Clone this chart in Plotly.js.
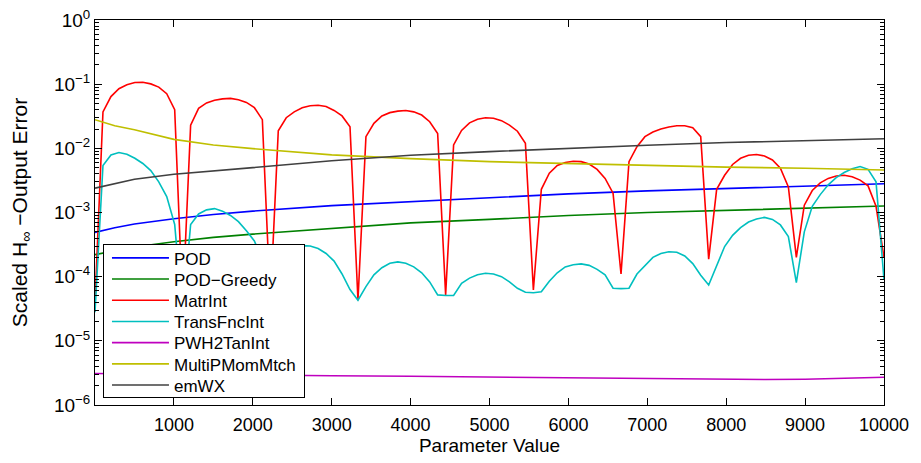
<!DOCTYPE html>
<html>
<head>
<meta charset="utf-8">
<script src="https://cdn.plot.ly/plotly-3.0.1.min.js"></script>
<style>
  html, body { margin: 0; padding: 0; background: #fff; }
  #chart { width: 921px; height: 463px; }
</style>
</head>
<body>
<div id="chart"></div>
<script>
// Parameter samples (100 equally spaced values on [0, 10000])
const paramGrid = [
  0, 101, 202, 303, 404, 505, 606, 707, 808, 909,
  1010, 1111, 1212, 1313, 1414, 1515, 1616, 1717, 1818, 1919,
  2020, 2121, 2222, 2323, 2424, 2525, 2626, 2727, 2828, 2929,
  3030, 3131, 3232, 3333, 3434, 3535, 3636, 3737, 3838, 3939,
  4040, 4141, 4242, 4343, 4444, 4545, 4646, 4747, 4848, 4949,
  5051, 5152, 5253, 5354, 5455, 5556, 5657, 5758, 5859, 5960,
  6061, 6162, 6263, 6364, 6465, 6566, 6667, 6768, 6869, 6970,
  7071, 7172, 7273, 7374, 7475, 7576, 7677, 7778, 7879, 7980,
  8081, 8182, 8283, 8384, 8485, 8586, 8687, 8788, 8889, 8990,
  9091, 9192, 9293, 9394, 9495, 9596, 9697, 9798, 9899, 10000
];

const matrInt = [
  4e-5, 0.037, 0.064, 0.085, 0.098, 0.106, 0.107, 0.101, 0.090, 0.071,
  0.040, 3.5e-5, 0.023, 0.042, 0.051, 0.056, 0.059, 0.060, 0.057, 0.052,
  0.043, 0.028, 4e-5, 0.0188, 0.030, 0.037, 0.043, 0.046, 0.047, 0.045,
  0.039, 0.032, 0.0217, 4.3e-5, 0.0152, 0.0245, 0.032, 0.036, 0.038, 0.0388,
  0.037, 0.033, 0.026, 0.017, 5.2e-5, 0.0113, 0.019, 0.025, 0.0285, 0.030,
  0.0295, 0.027, 0.023, 0.0185, 0.012, 6.2e-5, 2.3e-3, 4.1e-3, 5.4e-3, 6.0e-3,
  6.3e-3, 6.2e-3, 5.7e-3, 4.7e-3, 3.4e-3, 2.0e-3, 1.1e-4, 6.2e-3, 0.0106, 0.0152,
  0.018, 0.020, 0.0215, 0.0225, 0.0225, 0.021, 0.0152, 1.87e-4, 2.3e-3, 3.8e-3,
  5.6e-3, 7.0e-3, 7.8e-3, 8.0e-3, 7.6e-3, 6.6e-3, 4.9e-3, 2.5e-3, 2.0e-4, 1.3e-3,
  2.2e-3, 2.9e-3, 3.4e-3, 3.7e-3, 3.8e-3, 3.6e-3, 3.2e-3, 2.6e-3, 1.25e-3, 2.0e-4
];

const transFncInt = [
  2.8e-5, 5.4e-3, 7.9e-3, 8.6e-3, 8.1e-3, 7.0e-3, 5.8e-3, 4.5e-3, 3.0e-3, 1.77e-3,
  6.5e-4, 2.5e-5, 6.5e-4, 9.5e-4, 1.1e-3, 1.15e-3, 1.05e-3, 9.0e-4, 7.2e-4, 5.2e-4,
  3.6e-4, 1.8e-4, 3.5e-5, 1.6e-4, 2.4e-4, 2.9e-4, 3.05e-4, 3.0e-4, 2.75e-4, 2.3e-4,
  1.75e-4, 1.1e-4, 6.3e-5, 4.3e-5, 7.0e-5, 1.07e-4, 1.38e-4, 1.62e-4, 1.7e-4, 1.62e-4,
  1.42e-4, 1.15e-4, 8.3e-5, 5.2e-5, 5.1e-5, 5.1e-5, 7.9e-5, 9.5e-5, 1.07e-4, 1.13e-4,
  1.1e-4, 1.0e-4, 8.3e-5, 6.6e-5, 5.7e-5, 5.6e-5, 5.8e-5, 8.5e-5, 1.15e-4, 1.42e-4,
  1.53e-4, 1.58e-4, 1.5e-4, 1.3e-4, 1.07e-4, 6.6e-5, 6.5e-5, 6.6e-5, 1.1e-4, 1.5e-4,
  2.0e-4, 2.3e-4, 2.45e-4, 2.4e-4, 2.1e-4, 1.6e-4, 1.05e-4, 7.4e-5, 1.5e-4, 2.95e-4,
  4.4e-4, 5.8e-4, 7.1e-4, 7.9e-4, 8.4e-4, 7.8e-4, 6.4e-4, 4.2e-4, 8.1e-5, 5.0e-4,
  1.25e-3, 1.9e-3, 2.7e-3, 3.5e-3, 4.2e-3, 4.8e-3, 5.2e-3, 4.7e-3, 3.0e-3, 9.0e-5
];

// Smooth curves sampled more coarsely
const smoothGrid = [0, 250, 500, 1000, 1500, 2000, 3000, 4000, 5000, 6000, 7000, 8000, 9000, 10000];
const pod        = [4.9e-4, 5.8e-4, 6.6e-4, 8.0e-4, 9.3e-4, 1.05e-3, 1.28e-3, 1.48e-3, 1.70e-3, 1.95e-3, 2.17e-3, 2.38e-3, 2.6e-3, 2.8e-3];
const podGreedy  = [2.2e-4, 2.55e-4, 2.9e-4, 3.5e-4, 4.1e-4, 4.6e-4, 5.7e-4, 6.9e-4, 7.8e-4, 9.0e-4, 1.0e-3, 1.08e-3, 1.18e-3, 1.26e-3];
const multiPMom  = [0.028, 0.0225, 0.0195, 0.0138, 0.0113, 0.0099, 0.0079, 0.0069, 0.0062, 0.0058, 0.0054, 0.0051, 0.0049, 0.0046];
const emWX       = [2.4e-3, 2.85e-3, 3.3e-3, 3.95e-3, 4.5e-3, 5.0e-3, 6.4e-3, 7.8e-3, 8.9e-3, 0.0101, 0.0112, 0.0123, 0.0133, 0.0141];

const pwhGrid = [0, 1000, 2000, 3000, 4000, 5000, 6000, 7000, 8000, 8500, 9000, 9500, 10000];
const pwh2TanInt = [3.1e-6, 3.0e-6, 2.9e-6, 2.85e-6, 2.8e-6, 2.72e-6, 2.65e-6, 2.6e-6, 2.55e-6, 2.5e-6, 2.52e-6, 2.58e-6, 2.7e-6];

const xTicks = [1000, 2000, 3000, 4000, 5000, 6000, 7000, 8000, 9000, 10000];
const xTickText = ['1000', '2000', '3000', '4000', '5000', '6000', '7000', '8000', '9000', '10000'];
const yTicks = [1e-6, 1e-5, 1e-4, 1e-3, 1e-2, 1e-1, 1];
const yTickText = ['10<sup>\u22126</sup>', '10<sup>\u22125</sup>', '10<sup>\u22124</sup>',
                   '10<sup>\u22123</sup>', '10<sup>\u22122</sup>', '10<sup>\u22121</sup>', '10<sup>0</sup>'];

const FONT = 'Liberation Sans, Arial, Helvetica, sans-serif';

function series(name, x, y, color) {
  return { type: 'scatter', mode: 'lines', name: name, x: x, y: y,
           line: { color: color, width: 1.6 } };
}

const traces = [
  series('POD', smoothGrid, pod, 'rgb(0,0,255)'),
  series('POD\u2212Greedy', smoothGrid, podGreedy, 'rgb(0,128,0)'),
  series('MatrInt', paramGrid, matrInt, 'rgb(255,0,0)'),
  series('TransFncInt', paramGrid, transFncInt, 'rgb(0,191,191)'),
  series('PWH2TanInt', pwhGrid, pwh2TanInt, 'rgb(191,0,191)'),
  series('MultiPMomMtch', smoothGrid, multiPMom, 'rgb(191,191,0)'),
  series('emWX', smoothGrid, emWX, 'rgb(64,64,64)')
];

const layout = {
  width: 921, height: 463,
  margin: { l: 95, r: 37, t: 20, b: 58 },
  paper_bgcolor: 'white', plot_bgcolor: 'white',
  font: { family: FONT, size: 17, color: 'black' },
  showlegend: true,
  legend: {
    x: 0.0101, y: 0.018, xanchor: 'left', yanchor: 'bottom',
    bgcolor: 'white', bordercolor: 'black', borderwidth: 1,
    font: { family: FONT, size: 17, color: 'black' },
    itemwidth: 57, tracegroupgap: 0
  },
  xaxis: {
    range: [0, 10000],
    tickmode: 'array', tickvals: xTicks, ticktext: xTickText,
    ticks: 'inside', ticklen: 7, tickcolor: 'black', tickwidth: 1,
    showline: true, linecolor: 'black', linewidth: 1, mirror: 'allticks',
    showgrid: false, zeroline: false,
    ticklabelstandoff: 3,
    tickfont: { family: FONT, size: 18 },
    title: { text: 'Parameter Value', font: { family: FONT, size: 19 }, standoff: 3 }
  },
  yaxis: {
    type: 'log', range: [-6, 0],
    tickmode: 'array', tickvals: yTicks, ticktext: yTickText,
    ticks: 'inside', ticklen: 7, tickcolor: 'black', tickwidth: 1,
    minor: { ticks: 'inside', ticklen: 4, tickcolor: 'black', dtick: 'D1', showgrid: false },
    showline: true, linecolor: 'black', linewidth: 1, mirror: 'allticks',
    showgrid: false, zeroline: false,
    tickfont: { family: FONT, size: 19 },
    title: { text: 'Scaled H<sub>\u221e</sub> \u2212Output Error', font: { family: FONT, size: 21 }, standoff: 20 }
  }
};

// Tighten the legend rows to a compact 21px pitch, keeping its bottom edge in place
function compactLegend(gd) {
  const leg = gd.querySelector('.legend');
  if (!leg) return;
  const items = Array.from(leg.querySelectorAll('g.traces'));
  const pitch = 21.2, top = 13.5, bottomPad = 12, shiftX = 3;
  items.forEach((it, i) => {
    const m = /translate\(\s*([-\d.e]+)[ ,]+([-\d.e]+)\s*\)/.exec(it.getAttribute('transform') || '');
    const x = m ? parseFloat(m[1]) : 0;
    it.setAttribute('transform', 'translate(' + (x + shiftX) + ',' + (top + i * pitch) + ')');
  });
  const h = top + (items.length - 1) * pitch + bottomPad;
  const bg = leg.querySelector('rect.bg');
  const fl = gd._fullLayout;
  const bottomPx = fl.margin.t + fl._size.h * (1 - 0.018);
  const m0 = /translate\(\s*([-\d.e]+)[ ,]+([-\d.e]+)\s*\)/.exec(leg.getAttribute('transform') || '');
  const lx = m0 ? parseFloat(m0[1]) : 103;
  if (bg) {
    bg.setAttribute('height', h);
    bg.setAttribute('width', 201);
  }
  leg.setAttribute('transform', 'translate(' + lx + ',' + (bottomPx - h - 1) + ')');
}

Plotly.newPlot('chart', traces, layout, { displayModeBar: false, staticPlot: true })
  .then(compactLegend);
</script>
</body>
</html>
